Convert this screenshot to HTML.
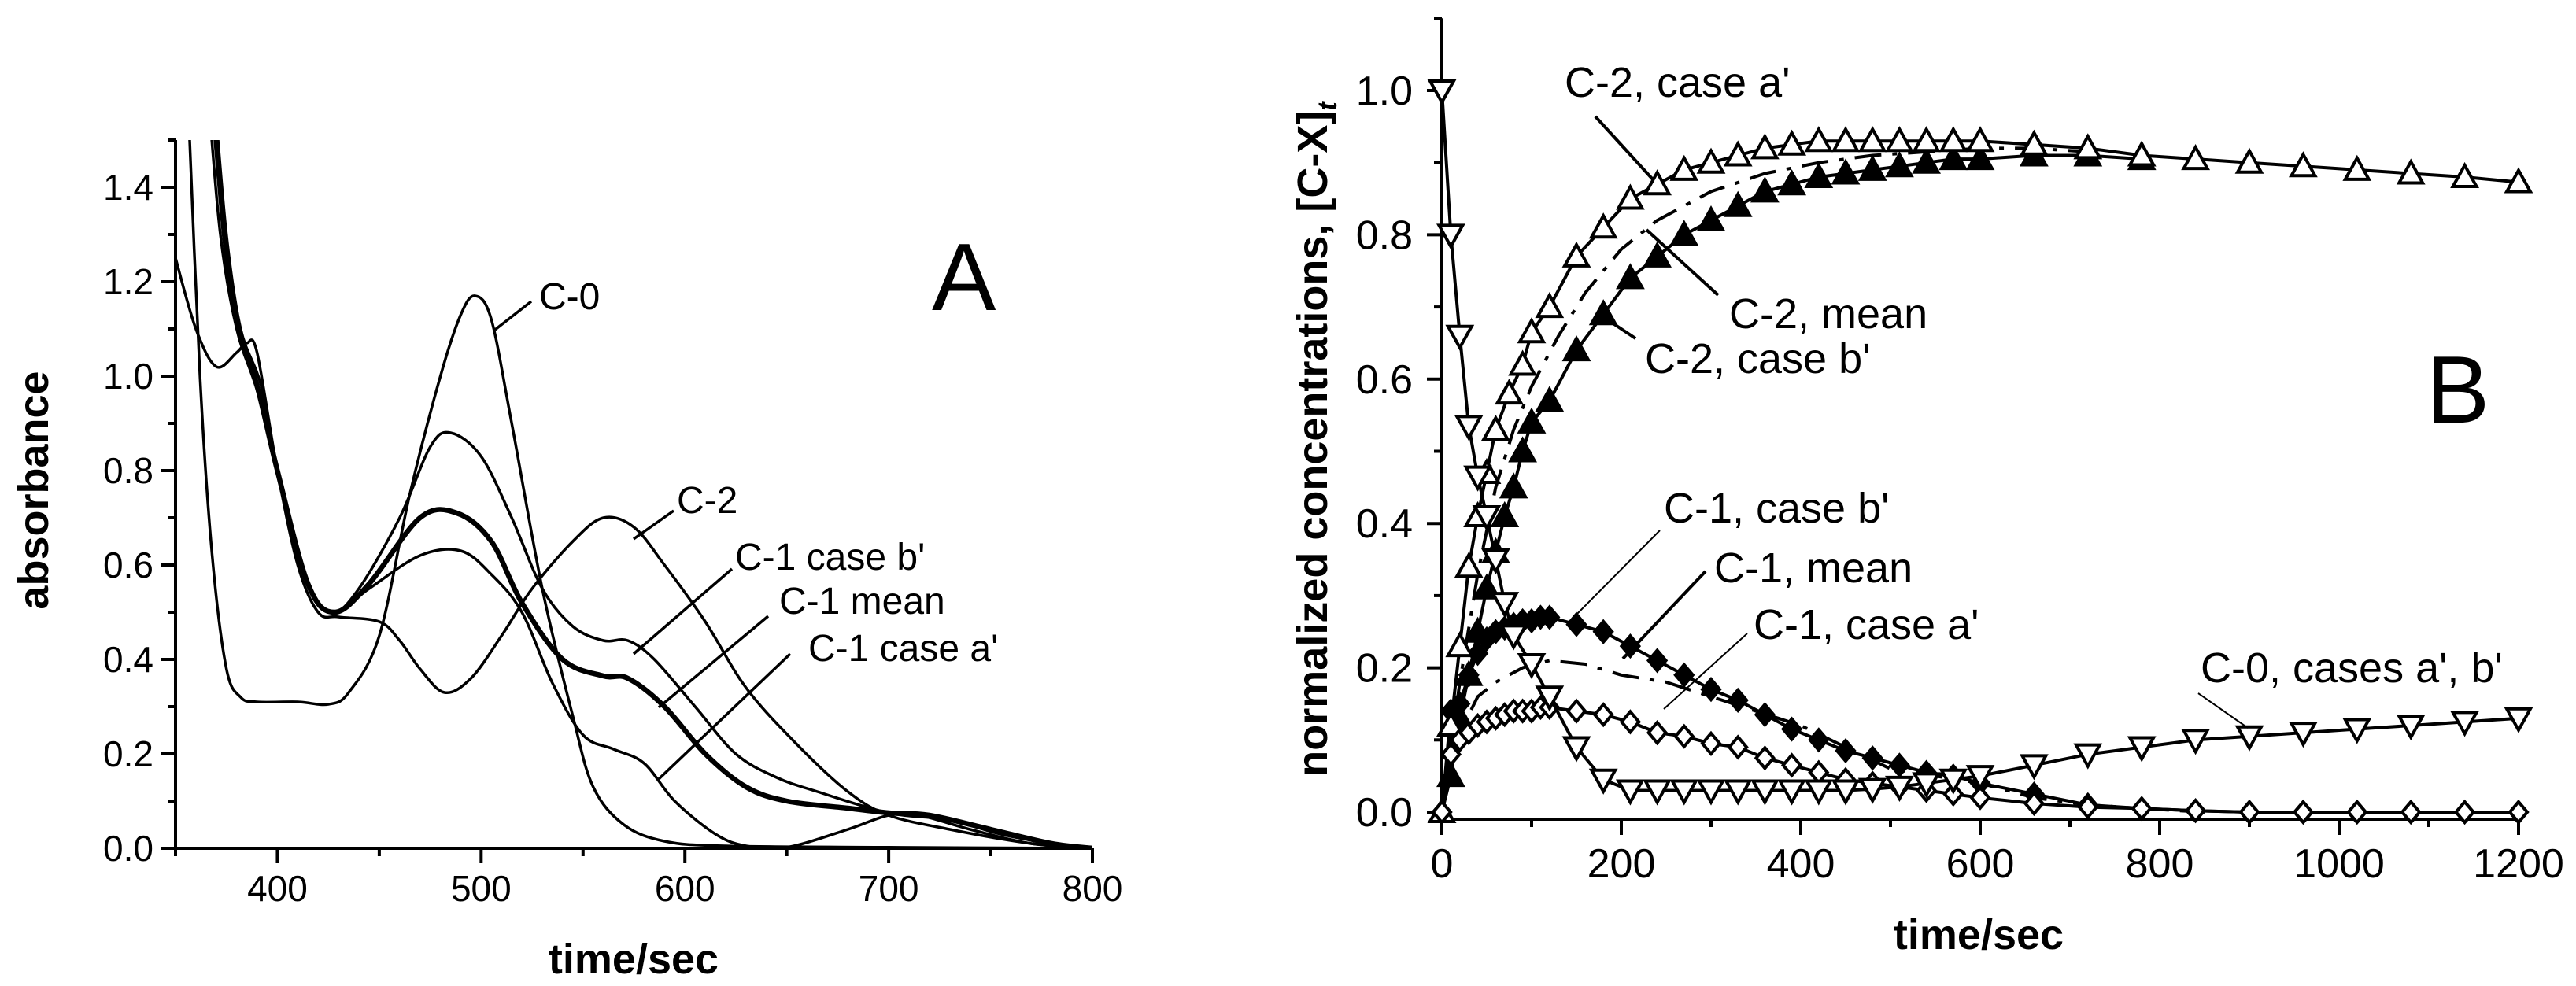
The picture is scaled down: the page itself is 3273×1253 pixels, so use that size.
<!DOCTYPE html>
<html><head><meta charset="utf-8">
<style>
html,body{margin:0;padding:0;background:#fff;}
svg{display:block;font-family:"Liberation Sans",Arial,sans-serif;}
</style></head>
<body>
<svg id="fig" width="3273" height="1253" viewBox="0 0 3273 1253" xmlns="http://www.w3.org/2000/svg">
<g id="panelA"></g>
<g id="panelB"></g>
</svg>
<script>
// ---------- Panel A data ----------
const aTicksX = [400, 500, 600, 700, 800];
const aTicksY = [0.0, 0.2, 0.4, 0.6, 0.8, 1.0, 1.2, 1.4];
const aC0x = [356,362,368,375,382,390,410,425,435,450,465,480,490,497,505,515,530,545,555,570,590,620,700,800];
const aC0y = [1.6,1.0,0.62,0.38,0.32,0.31,0.31,0.305,0.33,0.45,0.75,1.0,1.13,1.17,1.12,0.9,0.55,0.28,0.13,0.05,0.015,0.005,0.002,0.0];
const aC2x = [350,360,370,380,385,390,400,410,420,430,450,460,470,482,495,510,525,545,560,575,590,610,630,655,680,700,730,770,800];
const aC2y = [1.25,1.1,1.02,1.05,1.07,1.05,0.8,0.6,0.5,0.49,0.48,0.44,0.38,0.33,0.36,0.45,0.55,0.65,0.70,0.68,0.6,0.48,0.34,0.22,0.12,0.07,0.04,0.01,0.0];
const aC1bx = [366,372,380,390,400,415,427,440,460,475,485,500,515,530,545,560,572,585,605,625,645,665,700,730,755,780,800];
const aC1by = [1.6,1.3,1.1,0.97,0.8,0.56,0.5,0.55,0.7,0.85,0.88,0.83,0.7,0.55,0.47,0.44,0.44,0.4,0.3,0.2,0.15,0.12,0.075,0.06,0.03,0.01,0.0];
const aC1mx = [368,374,380,390,400,415,428,445,470,488,505,520,540,560,572,590,610,630,650,680,700,720,750,780,800];
const aC1my = [1.6,1.3,1.12,0.98,0.8,0.56,0.5,0.56,0.7,0.71,0.65,0.52,0.4,0.365,0.36,0.3,0.2,0.13,0.1,0.085,0.075,0.07,0.04,0.01,0.0];
const aC1ax = [369,375,382,392,400,415,428,445,470,490,505,520,535,550,565,580,595,615,630,650,680,700,715,740,770,800];
const aC1ay = [1.6,1.3,1.1,0.98,0.8,0.56,0.5,0.55,0.62,0.63,0.58,0.5,0.35,0.24,0.21,0.18,0.1,0.03,0.005,0.002,0.04,0.07,0.07,0.04,0.01,0.0];

// ---------- Panel B data ----------
const bTicksX = [0, 200, 400, 600, 800, 1000, 1200];
const bTicksY = [0.0, 0.2, 0.4, 0.6, 0.8, 1.0];
const bC0t = [0,10,20,30,40,50,60,70,80,100,120,150,180,210,240,270,300,330,360,390,420,450,480,510,540,570,600,660,720,780,840,900,960,1020,1080,1140,1200];
const bC0v = [1.0,0.80,0.66,0.535,0.465,0.41,0.35,0.29,0.245,0.205,0.16,0.09,0.045,0.03,0.03,0.03,0.03,0.03,0.03,0.03,0.03,0.03,0.032,0.035,0.04,0.045,0.05,0.065,0.08,0.09,0.10,0.105,0.11,0.115,0.12,0.125,0.13];
const bC2at = [0,10,20,30,40,50,60,75,90,100,120,150,180,210,240,270,300,330,360,390,420,450,480,510,540,570,600,660,720,780,840,900,960,1020,1080,1140,1200];
const bC2av = [0.0,0.12,0.23,0.34,0.41,0.47,0.53,0.58,0.62,0.665,0.70,0.77,0.81,0.85,0.87,0.89,0.90,0.91,0.92,0.925,0.93,0.93,0.93,0.93,0.93,0.93,0.93,0.925,0.92,0.91,0.905,0.90,0.895,0.89,0.885,0.88,0.873];
const bC2bt = [0,10,20,30,40,50,60,70,80,90,100,120,150,180,210,240,270,300,330,360,390,420,450,480,510,540,570,600,660,720,780];
const bC2bv = [0.0,0.05,0.13,0.19,0.25,0.31,0.36,0.41,0.45,0.50,0.54,0.57,0.64,0.69,0.74,0.77,0.80,0.82,0.84,0.86,0.87,0.88,0.885,0.89,0.895,0.90,0.905,0.905,0.91,0.91,0.905];
const bC2mt = [0,20,40,60,80,100,130,160,200,240,300,360,420,480,540,600,660,720];
const bC2mv = [0.0,0.18,0.33,0.45,0.53,0.59,0.66,0.72,0.78,0.82,0.86,0.885,0.90,0.91,0.915,0.92,0.92,0.915];
const bC1bt = [0,10,20,30,40,50,60,70,80,90,100,110,120,150,180,210,240,270,300,330,360,390,420,450,480,510,540,570,600,660,720,780,840,900,960,1020,1080,1140,1200];
const bC1bv = [0.0,0.14,0.15,0.19,0.22,0.24,0.25,0.255,0.26,0.265,0.265,0.27,0.27,0.26,0.25,0.23,0.21,0.19,0.17,0.155,0.135,0.115,0.10,0.085,0.075,0.065,0.055,0.05,0.04,0.025,0.01,0.005,0.002,0,0,0,0,0,0];
const bC1at = [0,10,20,30,40,50,60,70,80,90,100,110,120,150,180,210,240,270,300,330,360,390,420,450,480,510,540,570,600,660,720,780,840,900,960,1020,1080,1140,1200];
const bC1av = [0.0,0.08,0.10,0.11,0.12,0.125,0.13,0.135,0.14,0.14,0.14,0.145,0.145,0.14,0.135,0.125,0.11,0.105,0.095,0.09,0.075,0.065,0.055,0.045,0.04,0.035,0.03,0.025,0.02,0.012,0.007,0.005,0.002,0,0,0,0,0,0];
const bC1mt = [0,20,40,60,90,120,160,200,250,300,350,400,450,500,550,600,660,720,780,850];
const bC1mv = [0.0,0.11,0.16,0.18,0.20,0.21,0.205,0.19,0.18,0.16,0.14,0.12,0.09,0.06,0.05,0.04,0.02,0.01,0.005,0.0];

const NS = "http://www.w3.org/2000/svg";
function mk(parent, tag, attrs, text) {
  const e = document.createElementNS(NS, tag);
  for (const k in attrs) e.setAttribute(k, attrs[k]);
  if (text !== undefined) e.textContent = text;
  parent.appendChild(e);
  return e;
}
function smoothPath(pts) {
  let d = "M" + pts[0][0].toFixed(1) + "," + pts[0][1].toFixed(1);
  for (let i = 0; i < pts.length - 1; i++) {
    const p0 = pts[Math.max(0, i - 1)], p1 = pts[i], p2 = pts[i + 1], p3 = pts[Math.min(pts.length - 1, i + 2)];
    const c1 = [p1[0] + (p2[0] - p0[0]) / 6, p1[1] + (p2[1] - p0[1]) / 6];
    const c2 = [p2[0] - (p3[0] - p1[0]) / 6, p2[1] - (p3[1] - p1[1]) / 6];
    d += " C" + c1[0].toFixed(1) + "," + c1[1].toFixed(1) + " " + c2[0].toFixed(1) + "," + c2[1].toFixed(1) + " " + p2[0].toFixed(1) + "," + p2[1].toFixed(1);
  }
  return d;
}

// ================= Panel A =================
const A = document.getElementById("panelA");
const axL = 223, axR = 1388, ay0 = 1078, ayPer = 600;
const ax = v => axL + (v - 350) / 450 * (axR - axL);
const ay = v => ay0 - v * ayPer;

const clipA = mk(A, "clipPath", {id: "clipA"});
mk(clipA, "rect", {x: axL, y: ay(1.5), width: axR - axL, height: ay0 - ay(1.5) + 2});

const seriesA = [
  [aC0x, aC0y, "curve-c0", 3.5],
  [aC2x, aC2y, "curve-c2", 3.5],
  [aC1bx, aC1by, "curve-c1-case-b", 3.5],
  [aC1mx, aC1my, "curve-c1-mean", 6.5],
  [aC1ax, aC1ay, "curve-c1-case-a", 3.5]
];
const gA = mk(A, "g", {"clip-path": "url(#clipA)"});


seriesA.forEach(s => {
  const pts = s[0].map((x, i) => [ax(x), ay(s[1][i])]);
  const p = mk(gA, "path", {d: smoothPath(pts), fill: "none", stroke: "#000", "stroke-width": s[3], "stroke-linejoin": "round"});
  
  
});

const axisA = mk(A, "g", {stroke: "#000", "stroke-width": 4});


mk(axisA, "line", {x1: axL, y1: ay(1.5), x2: axL, y2: ay0 + 2});
mk(axisA, "line", {x1: axL - 2, y1: ay0, x2: axR, y2: ay0});
for (let v = 350; v <= 800; v += 50) {
  const major = v % 100 === 0;
  mk(axisA, "line", {x1: ax(v), y1: ay0, x2: ax(v), y2: ay0 + (major ? 19 : 10)});
}
for (let k = 0; k <= 15; k++) {
  const v = k / 10, major = k % 2 === 0;
  mk(axisA, "line", {x1: axL, y1: ay(v), x2: axL - (major ? 19 : 10), y2: ay(v)});
}
aTicksX.forEach(v => {
  const t = mk(A, "text", {x: ax(v), y: 1145, "font-size": 46, "text-anchor": "middle"}, String(v));
  
  
});
aTicksY.forEach(v => {
  const t = mk(A, "text", {x: 195, y: ay(v) + 16, "font-size": 46, "text-anchor": "end"}, v.toFixed(1));
  
  
});
let tA = mk(A, "text", {x: 805, y: 1237, "font-size": 54, "font-weight": "bold", "text-anchor": "middle"}, "time/sec");


tA = mk(A, "text", {x: 0, y: 0, "font-size": 54, "font-weight": "bold", "text-anchor": "middle", transform: "translate(61,623) rotate(-90)"}, "absorbance");


tA = mk(A, "text", {x: 1184, y: 394, "font-size": 122}, "A");



const labelsA = [
  ["C-0", 685, 393, [629,419,675,383], "label-c0"],
  ["C-2", 860, 652, [805,685,856,649], "label-c2"],
  ["C-1 case b'", 934, 724, [805,831,930,723], "label-c1-case-b"],
  ["C-1 mean", 990, 780, [837,899,976,783], "label-c1-mean"],
  ["C-1 case a'", 1027, 840, [837,990,1004,831], "label-c1-case-a"]
];
labelsA.forEach(l => {
  const t = mk(A, "text", {x: l[1], y: l[2], "font-size": 48}, l[0]);
  
  
  const ln = mk(A, "line", {x1: l[3][0], y1: l[3][1], x2: l[3][2], y2: l[3][3], stroke: "#000", "stroke-width": 3.5});
  
  
});

// ================= Panel B =================
const B = document.getElementById("panelB");
const bxL = 1832, bxR = 3200, by0 = 1032, byPer = 917, bAxisBottom = 1041;
const bx = v => bxL + v / 1200 * (bxR - bxL);
const by = v => by0 - v * byPer;

const axisB = mk(B, "g", {stroke: "#000", "stroke-width": 4});


mk(axisB, "line", {x1: bxL, y1: by(1.1), x2: bxL, y2: bAxisBottom + 2});
mk(axisB, "line", {x1: bxL - 2, y1: bAxisBottom, x2: bxR, y2: bAxisBottom});
for (let v = 0; v <= 1200; v += 100) {
  const major = v % 200 === 0;
  mk(axisB, "line", {x1: bx(v), y1: bAxisBottom, x2: bx(v), y2: bAxisBottom + (major ? 20 : 10)});
}
for (let k = 0; k <= 11; k++) {
  const v = k / 10, major = k % 2 === 0;
  mk(axisB, "line", {x1: bxL, y1: by(v), x2: bxL - (major ? 19 : 10), y2: by(v)});
}
bTicksX.forEach(v => {
  const t = mk(B, "text", {x: bx(v), y: 1115, "font-size": 52, "text-anchor": "middle"}, String(v));
  
  
});
bTicksY.forEach(v => {
  const t = mk(B, "text", {x: 1795, y: by(v) + 18, "font-size": 52, "text-anchor": "end"}, v.toFixed(1));
  
  
});

function drawSeries(ts, vs, name, dash, marker, filled) {
  const g = mk(B, "g", {});
  
  
  const pts = ts.map((t, i) => bx(t).toFixed(1) + "," + by(vs[i]).toFixed(1)).join(" ");
  const attrs = {points: pts, fill: "none", stroke: "#000", "stroke-width": 4, "stroke-linejoin": "round"};
  if (dash) attrs["stroke-dasharray"] = dash;
  mk(g, "polyline", attrs);
  if (!marker) return;
  ts.forEach((t, i) => {
    const x = bx(t), y = by(vs[i]);
    let d;
    if (marker === "up") d = `M${x},${y-15} L${x+15},${y+12} L${x-15},${y+12} Z`;
    else if (marker === "down") d = `M${x},${y+15} L${x+15},${y-12} L${x-15},${y-12} Z`;
    else d = `M${x},${y-13} L${x+11},${y} L${x},${y+13} L${x-11},${y} Z`;
    const m = mk(g, "path", {d: d, fill: filled ? "#000" : "#fff", stroke: "#000", "stroke-width": 4, "stroke-linejoin": "miter"});
    
    
  });
}
drawSeries(bC2mt, bC2mv, "series-c2-mean", "34,14,6,14", null, false);
drawSeries(bC1mt, bC1mv, "series-c1-mean", "34,14,6,14", null, false);
drawSeries(bC2bt, bC2bv, "series-c2-case-b", null, "up", true);
drawSeries(bC1bt, bC1bv, "series-c1-case-b", null, "diamond", true);
drawSeries(bC2at, bC2av, "series-c2-case-a", null, "up", false);
drawSeries(bC1at, bC1av, "series-c1-case-a", null, "diamond", false);
drawSeries(bC0t, bC0v, "series-c0", null, "down", false);

let tB = mk(B, "text", {x: 2514, y: 1206, "font-size": 54, "font-weight": "bold", "text-anchor": "middle"}, "time/sec");


tB = mk(B, "text", {x: 0, y: 0, "font-size": 54, "font-weight": "bold", "text-anchor": "middle", transform: "translate(1686,558) rotate(-90)"});


mk(tB, "tspan", {}, "normalized concentrations, [C-X]");
mk(tB, "tspan", {"font-size": 34, "font-style": "italic", dy: 12}, "t");
tB = mk(B, "text", {x: 3082, y: 537, "font-size": 122}, "B");



const labelsB = [
  ["C-2, case a'", 1988, 123, [2027,148,2100,228], 4, "label-c2-case-a"],
  ["C-2, mean", 2197, 417, [2092,292,2183,375], 4, "label-c2-mean"],
  ["C-2, case b'", 2090, 474, [2045,408,2078,430], 4, "label-c2-case-b"],
  ["C-1, case b'", 2114, 664, [2109,674,1999,785], 2, "label-c1-case-b"],
  ["C-1, mean", 2178, 740, [2167,726,2062,837], 4, "label-c1-mean"],
  ["C-1, case a'", 2228, 812, [2220,805,2114,901], 2, "label-c1-case-a"],
  ["C-0, cases a', b'", 2796, 867, [2793,881,2856,925], 2, "label-c0"]
];
labelsB.forEach(l => {
  const t = mk(B, "text", {x: l[1], y: l[2], "font-size": 54}, l[0]);
  
  
  const ln = mk(B, "line", {x1: l[3][0], y1: l[3][1], x2: l[3][2], y2: l[3][3], stroke: "#000", "stroke-width": l[4]});
  
  
});
</script>
</body></html>
